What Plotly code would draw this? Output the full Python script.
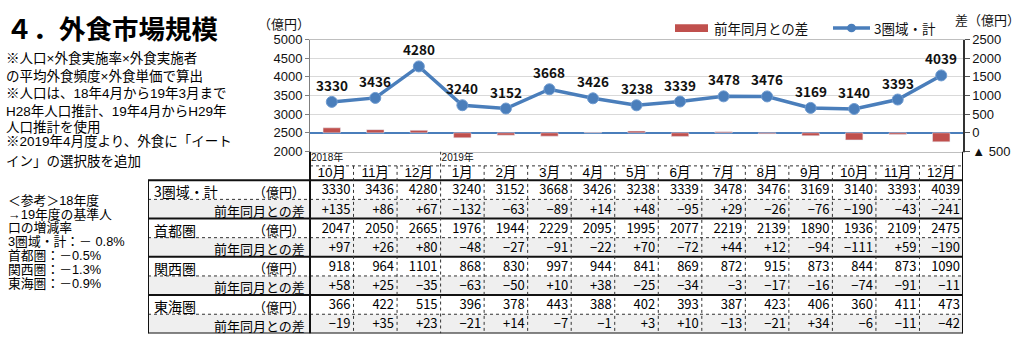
import plotly.graph_objects as go

# ---------------- data ----------------
months = ["10月", "11月", "12月", "1月", "2月", "3月", "4月", "5月", "6月",
          "7月", "8月", "9月", "10月", "11月", "12月"]
year_labels = ["2018年", "2019年"]
year_start_idx = [0, 3]

total = [3330, 3436, 4280, 3240, 3152, 3668, 3426, 3238, 3339, 3478, 3476, 3169, 3140, 3393, 4039]
total_diff = [135, 86, 67, -132, -63, -89, 14, 48, -95, 29, -26, -76, -190, -43, -241]
shuto = [2047, 2050, 2665, 1976, 1944, 2229, 2095, 1995, 2077, 2219, 2139, 1890, 1936, 2109, 2475]
shuto_diff = [97, 26, 80, -48, -27, -91, -22, 70, -72, 44, 12, -94, -111, 59, -190]
kansai = [918, 964, 1101, 868, 830, 997, 944, 841, 869, 872, 915, 873, 844, 873, 1090]
kansai_diff = [58, 25, -35, -63, -50, 10, 38, -25, -34, -3, -17, -16, -74, -91, -11]
tokai = [366, 422, 515, 396, 378, 443, 388, 402, 393, 387, 423, 406, 360, 411, 473]
tokai_diff = [-19, 35, 23, -21, 14, -7, -1, 3, 10, -13, -21, 34, -6, -11, -42]

region_names = ["3圏域・計", "首都圏", "関西圏", "東海圏"]
unit_label = "（億円）"
diff_label = "前年同月との差"

left_tick_vals = [2000, 2500, 3000, 3500, 4000, 4500, 5000]
right_tick_vals = [-500, 0, 500, 1000, 1500, 2000, 2500]
right_tick_text = ["▲ 500", "0", "500", "1000", "1500", "2000", "2500"]

title_text = "４．外食市場規模"
note_lines = [
    "※人口×外食実施率×外食実施者",
    "の平均外食頻度×外食単価で算出",
    "※人口は、18年4月から19年3月まで",
    "H28年人口推計、19年4月からH29年",
    "人口推計を使用",
    "※2019年4月度より、外食に「イート",
    "イン」の選択肢を追加",
]
ref_lines = [
    "＜参考＞18年度",
    "→19年度の基準人",
    "口の増減率",
    "3圏域・計：－ 0.8%",
    "首都圏：－0.5%",
    "関西圏：－1.3%",
    "東海圏：－0.9%",
]
legend_bar_name = "前年同月との差"
legend_line_name = "3圏域・計"

# ---------------- layout geometry (pixels) ----------------
W, H = 1024, 350
PL, PR, PT, PB = 310, 963, 34, 151      # chart plot area
TL, TB = 148, 341                        # table left / bottom
HEAD_ROWS = 1.5                          # header height in row units
n = len(months)
col_w = (PR - PL) / n
x3_min = -0.5 - (PL - TL) / col_w
row_px = (TB - PB) / (8 + HEAD_ROWS)
TXT_DY = 1.5 / row_px                    # small downward nudge for table text


def px(x):
    return x / W


def py(y):
    return 1 - y / H


JP = "Noto Sans CJK JP"
MIX = "Liberation Sans, Noto Sans CJK JP"
BLUE = "#4A7EBB"
RED = "#C0504D"


def fmt_diff(v):
    if v > 0:
        return "+%d" % v
    if v < 0:
        return "−%d" % (-v)
    return "0"


fig = go.Figure()
idx = list(range(n))

# bars (diff) on right axis
fig.add_trace(go.Bar(x=idx, y=total_diff, yaxis="y2", xaxis="x", marker_color=RED,
                     width=0.4, showlegend=False, hoverinfo="skip"))
# line (total) on left axis
fig.add_trace(go.Scatter(x=idx, y=total, xaxis="x", yaxis="y", mode="lines+markers",
                         line=dict(color=BLUE, width=3.5),
                         marker=dict(size=11, color=BLUE, line=dict(color="#6F9BD0", width=1)),
                         showlegend=False, hoverinfo="skip", cliponaxis=False))

annotations = []
shapes = []

# data labels above the line points
for i, v in zip(idx, total):
    annotations.append(dict(xref="x", yref="y", x=i, y=v, text="<b>%d</b>" % v, yshift=17,
                            xanchor="center", yanchor="middle", showarrow=False,
                            font=dict(family=JP, size=13.5, color="#111")))

# ---------------- table ----------------
rows = []
for vals, diffs in zip([total, shuto, kansai, tokai],
                       [total_diff, shuto_diff, kansai_diff, tokai_diff]):
    rows.append([str(v) for v in vals])
    rows.append([fmt_diff(v) for v in diffs])

cell_font = dict(family=JP, size=13, color="#000")
pad = 3 / col_w
for r, texts in enumerate(rows):
    fig.add_trace(go.Scatter(x=[i + 0.5 - pad for i in idx], y=[r + 0.5 + TXT_DY] * n,
                             xaxis="x3", yaxis="y3", mode="text", text=texts,
                             textposition="middle left", textfont=cell_font,
                             showlegend=False, hoverinfo="skip", cliponaxis=False))

# month header
fig.add_trace(go.Scatter(x=idx, y=[-0.35] * n, xaxis="x3", yaxis="y3", mode="text",
                         text=months, textposition="middle center",
                         textfont=dict(family=MIX, size=13.5, color="#000"),
                         showlegend=False, hoverinfo="skip", cliponaxis=False))
# year header
fig.add_trace(go.Scatter(x=[i - 0.5 + 1 / col_w for i in year_start_idx], y=[-1.14] * len(year_start_idx),
                         xaxis="x3", yaxis="y3", mode="text", text=year_labels,
                         textposition="middle right",
                         textfont=dict(family=MIX, size=10, color="#111"),
                         showlegend=False, hoverinfo="skip", cliponaxis=False))

# gray fill for diff rows
for r in range(1, 8, 2):
    shapes.append(dict(type="rect", xref="x3", yref="y3", x0=x3_min, x1=n - 0.5, y0=r, y1=r + 1,
                       fillcolor="#EFEFEF", line=dict(width=0), layer="below"))

DOT = dict(color="#333", width=1, dash="dot")
SOLID = dict(color="#111", width=2)

shapes.append(dict(type="line", xref="x3", yref="y3", x0=-0.5, x1=n - 0.5, y0=-0.75, y1=-0.75, line=DOT))
for r in range(0, 9):
    ln = SOLID if r % 2 == 0 else DOT
    shapes.append(dict(type="line", xref="x3", yref="y3", x0=x3_min, x1=n - 0.5, y0=r, y1=r, line=ln))
shapes.append(dict(type="line", xref="x3", yref="y3", x0=x3_min, x1=x3_min, y0=0, y1=8, line=SOLID))
shapes.append(dict(type="line", xref="x3", yref="y3", x0=-0.5, x1=-0.5, y0=-HEAD_ROWS, y1=8, line=SOLID))
shapes.append(dict(type="line", xref="x3", yref="y3", x0=n - 0.5, x1=n - 0.5, y0=-HEAD_ROWS, y1=8, line=SOLID))
for k in range(1, n):
    top = -HEAD_ROWS if (k in year_start_idx) else -0.75
    shapes.append(dict(type="line", xref="x3", yref="y3", x0=k - 0.5, x1=k - 0.5, y0=top, y1=8, line=DOT))

# row labels
for g, name in enumerate(region_names):
    annotations.append(dict(xref="x3", yref="y3", x=x3_min, y=2 * g + 0.5 + TXT_DY, text=name,
                            xanchor="left", yanchor="middle", xshift=4, showarrow=False,
                            font=dict(family=JP, size=14, color="#000")))
    annotations.append(dict(xref="x3", yref="y3", x=-0.5, y=2 * g + 0.5 + TXT_DY, text=unit_label,
                            xanchor="right", yanchor="middle", xshift=-3, showarrow=False,
                            font=dict(family=JP, size=13, color="#000")))
    annotations.append(dict(xref="x3", yref="y3", x=-0.5, y=2 * g + 1.5 + TXT_DY, text=diff_label,
                            xanchor="right", yanchor="middle", xshift=-3, showarrow=False,
                            font=dict(family=JP, size=13, color="#000")))

# ---------------- left text ----------------
annotations.append(dict(xref="paper", yref="paper", x=px(4), y=py(21), text="<b>" + title_text + "</b>",
                        xanchor="left", yanchor="middle", showarrow=False,
                        font=dict(family=JP, size=26.5, color="#000")))
note_y = [54, 73, 90, 109, 125, 140, 161]
for t, yy in zip(note_lines, note_y):
    annotations.append(dict(xref="paper", yref="paper", x=px(4), y=py(yy), text=t,
                            xanchor="left", yanchor="middle", showarrow=False,
                            font=dict(family=MIX, size=13.5, color="#000")))
ref_y0, ref_dy = 202, 14.4
for i, t in enumerate(ref_lines):
    annotations.append(dict(xref="paper", yref="paper", x=px(6), y=py(ref_y0 + i * ref_dy), text=t,
                            xanchor="left", yanchor="middle", showarrow=False,
                            font=dict(family=MIX, size=12.8, color="#000")))

# axis titles
annotations.append(dict(xref="paper", yref="paper", x=px(312), y=py(17), text="（億円）",
                        xanchor="right", yanchor="middle", showarrow=False,
                        font=dict(family=JP, size=13, color="#111")))
annotations.append(dict(xref="paper", yref="paper", x=px(1022), y=py(13), text="差（億円）",
                        xanchor="right", yanchor="middle", showarrow=False,
                        font=dict(family=JP, size=13, color="#111")))

# manual legend
shapes.append(dict(type="rect", xref="paper", yref="paper", x0=px(675), x1=px(708), y0=py(26), y1=py(18),
                   fillcolor=RED, line=dict(width=0)))
annotations.append(dict(xref="paper", yref="paper", x=px(712), y=py(22), text=legend_bar_name,
                        xanchor="left", yanchor="middle", showarrow=False,
                        font=dict(family=JP, size=13.5, color="#111")))
shapes.append(dict(type="line", xref="paper", yref="paper", x0=px(833), x1=px(870), y0=py(22), y1=py(22),
                   line=dict(color=BLUE, width=3.5)))
shapes.append(dict(type="circle", xref="paper", yref="paper", x0=px(847), x1=px(856), y0=py(26.5), y1=py(17.5),
                   fillcolor=BLUE, line=dict(width=0)))
annotations.append(dict(xref="paper", yref="paper", x=px(872), y=py(22), text=legend_line_name,
                        xanchor="left", yanchor="middle", showarrow=False,
                        font=dict(family=JP, size=13.5, color="#111")))

fig.update_layout(
    width=W, height=H, margin=dict(l=0, r=0, t=0, b=0),
    paper_bgcolor="white", plot_bgcolor="rgba(0,0,0,0)",
    showlegend=False, barmode="overlay",
    xaxis=dict(domain=[px(PL), px(PR)], range=[-0.5, n - 0.5], showticklabels=False, ticks="",
               showgrid=False, zeroline=False, showline=True, mirror=True, linecolor="#BFBFBF", linewidth=1),
    yaxis=dict(domain=[py(PB), py(PT)], range=[2000, 5000], tickvals=left_tick_vals,
               showgrid=True, gridcolor="#D9D9D9", gridwidth=1, zeroline=False,
               showline=True, linecolor="#7F7F7F", linewidth=1, ticks="outside", ticklen=4, tickcolor="#7F7F7F",
               tickfont=dict(family="Liberation Sans", size=13, color="#111")),
    yaxis2=dict(domain=[py(PB), py(PT)], range=[-500, 2500], overlaying="y", side="right", anchor="x",
                tickvals=right_tick_vals, ticktext=right_tick_text, showgrid=False,
                zeroline=True, zerolinecolor=BLUE, zerolinewidth=1.5,
                showline=True, linecolor="#333", linewidth=1.5, ticks="outside", ticklen=5, tickcolor="#555",
                tickfont=dict(family="Liberation Sans", size=13, color="#111")),
    xaxis3=dict(domain=[px(TL), px(PR)], range=[x3_min, n - 0.5], visible=False, anchor="y3"),
    yaxis3=dict(domain=[py(TB), py(PB)], range=[8, -HEAD_ROWS], visible=False, anchor="x3"),
    shapes=shapes, annotations=annotations,
)

fig.write_html("out.html")
